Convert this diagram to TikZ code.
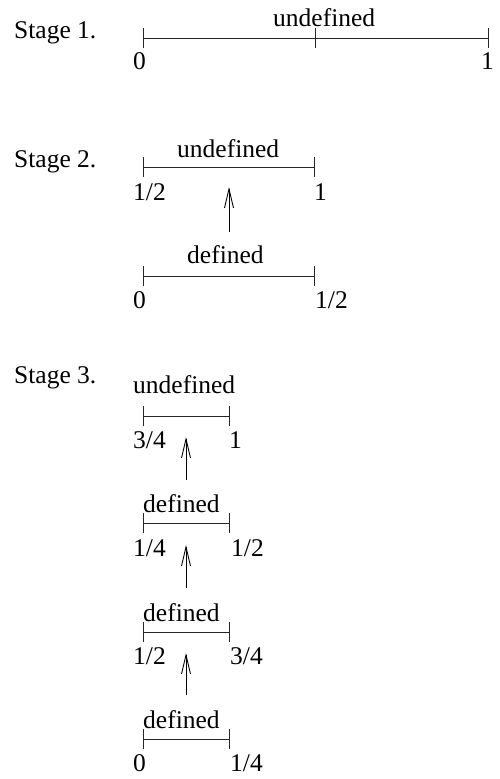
\documentclass[tikz,border=0pt]{standalone}
\usepackage{fontspec}
\setmainfont{Liberation Serif}
\usetikzlibrary{arrows.meta}
\begin{document}
\begin{tikzpicture}[x=1pt,y=-1pt,
  txt/.style={anchor=base west,inner sep=0pt,font=\fontsize{25.5}{30}\selectfont},
  seg/.style={line width=0.9pt,draw=black!85,{Bar[width=20pt,line width=0.9pt]}-{Bar[width=20pt,line width=0.9pt]}},
  tick/.style={line width=0.9pt,draw=black!85},
  up/.style={line width=0.9pt,-{Straight Barb[length=19pt,width=9pt,line width=0.9pt]}}]
\useasboundingbox (0,0) rectangle (499,779);
% Stage 1
\node[txt] (s1) at (14,38) {Stage 1.};
\coordinate (a1) at (143,38);
\coordinate (b1) at (489,38);
\coordinate (m1) at (315,38);
\draw[seg] (a1) -- (b1);
\draw[tick] ([yshift=-10pt]m1) -- ([yshift=10pt]m1);
\node[txt] (u1) at (273,27) {undefined};
\node[txt] (l10) at (133,69) {0};
\node[txt] (l11) at (481,69) {1};
% Stage 2
\node[txt] (s2) at (14,167) {Stage 2.};
\coordinate (a2u) at (143,167);
\coordinate (b2u) at (315,167);
\draw[seg] (a2u) -- (b2u);
\node[txt] (u2) at (177,157) {undefined};
\node[txt] (l2a) at (133,200) {1/2};
\node[txt] (l2b) at (314,200) {1};
\coordinate (a2d) at (143,276);
\coordinate (b2d) at (315,276);
\draw[seg] (a2d) -- (b2d);
\node[txt] (d2) at (187,263) {defined};
\node[txt] (l2c) at (133,308) {0};
\node[txt] (l2d) at (315,308) {1/2};
\coordinate (t2) at (229,232);
\coordinate (h2) at (229,187);
\draw[up] (t2) -- (h2);
% Stage 3
\node[txt] (s3) at (14,383) {Stage 3.};
% row A
\coordinate (aA) at (143,416);
\coordinate (bA) at (230,416);
\draw[seg] (aA) -- (bA);
\node[txt] (uA) at (133,393) {undefined};
\node[txt] (lA1) at (133,448) {3/4};
\node[txt] (lA2) at (229,448) {1};
\coordinate (tA) at (186,480);
\coordinate (hA) at (186,437);
\draw[up] (tA) -- (hA);
% row B
\coordinate (aB) at (143,523);
\coordinate (bB) at (230,523);
\draw[seg] (aB) -- (bB);
\node[txt] (dB) at (143,512) {defined};
\node[txt] (lB1) at (133,556) {1/4};
\node[txt] (lB2) at (231,556) {1/2};
\coordinate (tB) at (186,588);
\coordinate (hB) at (186,545);
\draw[up] (tB) -- (hB);
% row C
\coordinate (aC) at (143,632);
\coordinate (bC) at (230,632);
\draw[seg] (aC) -- (bC);
\node[txt] (dC) at (143,621) {defined};
\node[txt] (lC1) at (133,664) {1/2};
\node[txt] (lC2) at (230,664) {3/4};
\coordinate (tC) at (186,695);
\coordinate (hC) at (186,653);
\draw[up] (tC) -- (hC);
% row D
\coordinate (aD) at (143,739);
\coordinate (bD) at (230,739);
\draw[seg] (aD) -- (bD);
\node[txt] (dD) at (143,728) {defined};
\node[txt] (lD1) at (133,771) {0};
\node[txt] (lD2) at (230,771) {1/4};
\end{tikzpicture}
\end{document}
